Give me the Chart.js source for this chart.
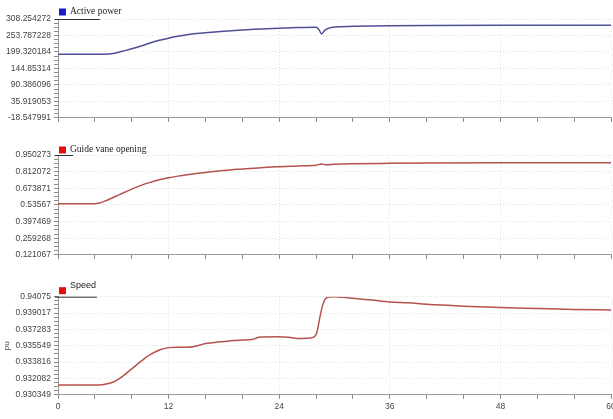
<!DOCTYPE html>
<html lang="en">
<head>
    <meta charset="UTF-8">
    <title>Active power, guide vane opening and speed</title>
    <script src="https://cdn.jsdelivr.net/npm/chart.js"></script>
    <style>
        body {
            margin: 0;
            background: #fff;
            overflow: hidden;
            width: 613px;
            height: 419px;
            position: relative;
        }

        canvas {
            position: absolute;
            left: 0;
        }

        #powerChart { top: 0; }
        #vaneChart { top: 130px; }
        #speedChart { top: 265px; }
    </style>
</head>

<body>
    <canvas id="powerChart" width="620" height="126"></canvas>
    <canvas id="vaneChart" width="620" height="133"></canvas>
    <canvas id="speedChart" width="620" height="150"></canvas>

    <script>
        // time axis (s)
        const timeLabels = [0, 12, 24, 36, 48, 60];

        // Active power
        const powerTicks = [-18.547991, 35.919053, 90.386096, 144.85314, 199.320184, 253.787228, 308.254272];
        const powerTime = [0, 5, 6, 7, 8, 9, 10, 11, 12, 13, 14, 15, 16, 18, 20, 22, 24, 26, 28, 28.3, 28.6, 28.9, 29.4, 30, 32, 36, 40, 48, 60];
        const powerValues = [192, 192, 194, 202, 210, 219, 229, 238, 245, 251, 256, 260, 263, 268, 272, 275, 278, 280, 281, 274, 259, 270, 278, 282, 284, 286, 287, 288, 288];

        // Guide vane opening
        const vaneTicks = [0.121067, 0.259268, 0.397469, 0.53567, 0.673871, 0.812072, 0.950273];
        const vaneTime = [0, 4, 4.5, 5, 6, 7, 8, 9, 10, 11, 12, 13, 14, 15, 16, 18, 20, 22, 24, 26, 28, 28.6, 29, 30, 32, 36, 40, 48, 60];
        const vaneValues = [0.545, 0.545, 0.552, 0.565, 0.598, 0.633, 0.667, 0.698, 0.723, 0.744, 0.761, 0.775, 0.787, 0.797, 0.806, 0.822, 0.834, 0.845, 0.853, 0.86, 0.866, 0.875, 0.870, 0.874, 0.878, 0.881, 0.883, 0.885, 0.885];

        // Speed (pu)
        const speedTime = [0, 4.5, 5, 6, 7, 8, 9, 10, 11, 12, 13, 14, 15, 15.5, 16, 17, 18, 19, 20, 21, 21.4, 21.6, 22, 24, 25, 26, 27, 27.8, 28.1, 28.4, 28.7, 29, 29.5, 30, 31, 32, 34, 36, 38, 40, 44, 48, 52, 56, 60];
        const speedValues = [0.9314, 0.9314, 0.93145, 0.9317, 0.9323, 0.9331, 0.9339, 0.9346, 0.9351, 0.93535, 0.9354, 0.93538, 0.93552, 0.93565, 0.93578, 0.9359, 0.936, 0.9361, 0.93615, 0.9362, 0.9363, 0.9364, 0.93648, 0.9365, 0.93645, 0.93632, 0.93635, 0.9365, 0.937, 0.9385, 0.9398, 0.9405, 0.94072, 0.94075, 0.94068, 0.94058, 0.9404, 0.9402, 0.9401, 0.93995, 0.93975, 0.9396, 0.9395, 0.9394, 0.93935];
        const speedTicks = [0.930349, 0.932082, 0.933816, 0.935549, 0.937283, 0.939017, 0.94075];

        const tickFont = { family: 'Liberation Sans', size: 8.5 };
        const gridColor = '#e2e2e2';

        // small square + name above each panel, with the short rule under it
        const panelLegend = {
            id: 'panelLegend',
            afterDraw(chart, args, opts) {
                const { ctx, chartArea } = chart;
                const x = chartArea.left;
                const top = chartArea.top;
                ctx.save();
                ctx.fillStyle = opts.boxColor;
                ctx.fillRect(x + 1, top + opts.boxY - 3.5, 7, 7);
                ctx.fillStyle = '#222';
                ctx.font = opts.font;
                ctx.textBaseline = 'middle';
                ctx.fillText(opts.text, x + 12, top + opts.textY);
                ctx.strokeStyle = '#333';
                ctx.lineWidth = 1;
                ctx.beginPath();
                ctx.moveTo(x - 3, top + 0.5);
                ctx.lineTo(x + opts.rule, top + 0.5);
                ctx.stroke();
                ctx.restore();
            }
        };

        function buildYTicks(values) {
            return scale => {
                const out = [];
                for (let i = 0; i < values.length; i++) {
                    out.push({ value: values[i], major: true });
                    if (i < values.length - 1) {
                        const step = (values[i + 1] - values[i]) / 4;
                        for (let k = 1; k < 4; k++) out.push({ value: values[i] + k * step, major: false });
                    }
                }
                scale.ticks = out;
            };
        }

        function makePanel(id, p) {
            return new Chart(document.getElementById(id), {
                type: 'line',
                data: {
                    datasets: [{
                        label: p.legend.text,
                        data: p.time.map((t, i) => ({ x: t, y: p.values[i] })),
                        borderColor: p.color,
                        borderWidth: 1.5,
                        pointRadius: 0,
                        cubicInterpolationMode: 'monotone',
                        fill: false
                    }]
                },
                options: {
                    responsive: false,
                    animation: false,
                    layout: { padding: { top: p.padTop, right: 9, left: 0, bottom: 0 } },
                    plugins: {
                        legend: { display: false },
                        tooltip: { enabled: false },
                        panelLegend: p.legend
                    },
                    scales: {
                        x: {
                            type: 'linear',
                            min: 0,
                            max: 60,
                            ticks: {
                                stepSize: 4,
                                autoSkip: false,
                                maxRotation: 0,
                                display: p.showTime,
                                font: tickFont,
                                color: '#444',
                                padding: 3,
                                callback: v => timeLabels.includes(v) ? String(v) : ''
                            },
                            grid: {
                                color: c => c.tick && c.tick.value % 12 === 0 && c.tick.value > 0 ? gridColor : 'rgba(0,0,0,0)',
                                tickColor: '#888',
                                tickLength: 4
                            },
                            border: { color: '#9a9a9a', dash: [1, 2] }
                        },
                        y: {
                            min: p.ticks[0],
                            max: p.ticks[p.ticks.length - 1],
                            afterBuildTicks: buildYTicks(p.ticks),
                            afterFit: scale => { scale.width = 58; },
                            ticks: {
                                autoSkip: false,
                                font: tickFont,
                                color: '#444',
                                padding: 3,
                                callback: (v, i, ticks) => ticks[i].major ? String(v) : ''
                            },
                            grid: {
                                color: c => c.tick && c.tick.major ? gridColor : 'rgba(0,0,0,0)',
                                tickColor: '#888',
                                tickLength: 4
                            },
                            border: { color: '#9a9a9a', dash: [1, 2] },
                            title: {
                                display: !!p.unit,
                                text: p.unit || '',
                                font: { family: 'Liberation Sans', size: 8 },
                                color: '#444',
                                padding: { top: 2, bottom: 0 }
                            }
                        }
                    }
                },
                plugins: [panelLegend]
            });
        }

        makePanel('powerChart', {
            time: powerTime, values: powerValues, ticks: powerTicks,
            color: '#4f4f95', padTop: 19, showTime: false,
            legend: { text: 'Active power', boxColor: '#1c1cc8', font: '9.5px "Liberation Serif"', boxY: -7, textY: -8, rule: 42 }
        });

        makePanel('vaneChart', {
            time: vaneTime, values: vaneValues, ticks: vaneTicks,
            color: '#b5524f', padTop: 25, showTime: false,
            legend: { text: 'Guide vane opening', boxColor: '#e01010', font: '9.5px "Liberation Serif"', boxY: -5, textY: -6, rule: 15 }
        });

        makePanel('speedChart', {
            time: speedTime, values: speedValues, ticks: speedTicks,
            color: '#b5524f', padTop: 31.7, showTime: true, unit: 'pu',
            legend: { text: 'Speed', boxColor: '#e01010', font: '9px "Liberation Sans"', boxY: -6, textY: -11, rule: 39 }
        });
    </script>
</body>

</html>
